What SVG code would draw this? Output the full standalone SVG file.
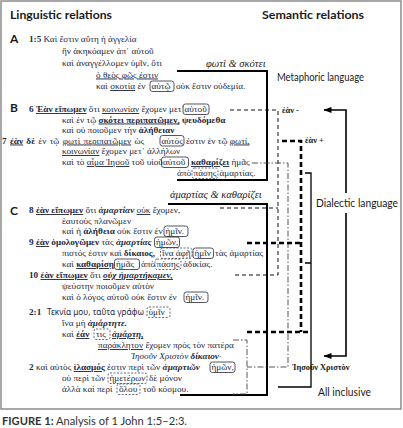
<svg xmlns="http://www.w3.org/2000/svg" width="403" height="428" viewBox="0 0 403 428">
<style>
.s{font-family:"Liberation Serif","DejaVu Serif",serif;font-size:9.2px;fill:#222840}
.b{font-weight:700}
.i{font-style:italic}
.u{text-decoration:underline}
.sans{font-family:"Noto Sans","Open Sans","DejaVu Sans",sans-serif;font-size:8.6px;fill:#222840}
.hd{font-family:Lato,"Open Sans",sans-serif;font-weight:700;font-size:12px;fill:#1a1a1a}
.lb{font-family:Lato,"Open Sans",sans-serif;font-size:11px;fill:#1a1a1a}
.gl{font-family:"Liberation Serif","DejaVu Serif",serif;font-size:8.4px;font-weight:700;fill:#1a1a1a}
.it{font-family:"Liberation Serif","DejaVu Serif",serif;font-size:10.5px;font-style:italic;fill:#1a1a1a}
.bx{fill:none;stroke:#2a2a3a;stroke-width:.8}
.dbx{fill:none;stroke:#2a2a3a;stroke-width:.7;stroke-dasharray:2 1.5}
.br{fill:none;stroke:#000;stroke-width:2}
.dash{fill:none;stroke:#111;stroke-width:1;stroke-dasharray:4 3}
.dd{fill:none;stroke:#444;stroke-width:.9;stroke-dasharray:6 2 1.5 2}
.td{fill:none;stroke:#000;stroke-width:2.6;stroke-dasharray:5 3}
.sol{fill:none;stroke:#000;stroke-width:1.3}
.arr{fill:none;stroke:#000;stroke-width:1.6;marker-end:url(#ah)}
</style>
<defs>
<marker id="ah" viewBox="0 0 8 6" refX="7.5" refY="3" markerWidth="8" markerHeight="6" orient="auto" markerUnits="userSpaceOnUse"><path d="M0,0 L8,3 L0,6 z" fill="#000"/></marker>
</defs>
<rect x="1" y="1" width="400" height="408" fill="#fff" stroke="#8c8c8c" stroke-width="1.5"/>

<g id="header-linguistic"><text class="hd" x="10" y="19" textLength="102" lengthAdjust="spacingAndGlyphs">Linguistic relations</text></g>
<g id="header-semantic"><text class="hd" x="262" y="19" textLength="102" lengthAdjust="spacingAndGlyphs">Semantic relations</text></g>

<g id="sectionA">
<text class="hd" x="10" y="43">A</text>
<text class="s" y="42"><tspan x="29" class="b">1:5 </tspan>Καὶ ἔστιν αὕτη ἡ ἀγγελία</text>
<text class="s" x="62" y="54">ἣν ἀκηκόαμεν ἀπ᾽ αὐτοῦ</text>
<text class="s" x="62" y="66">καὶ ἀναγγέλλομεν ὑμῖν, ὅτι</text>
<text class="s" x="96" y="77.5"><tspan class="u">ὁ θεὸς φῶς ἐστιν</tspan></text>
<text class="s" y="89"><tspan x="96">καὶ </tspan><tspan class="u">σκοτία</tspan> ἐν<tspan x="151.5">αὐτῷ</tspan><tspan x="176">οὐκ ἔστιν οὐδεμία.</tspan></text>
<rect class="bx" x="150" y="81" width="24" height="10.5" rx="2.5"/>
</g>

<g id="sectionB">
<text class="hd" x="10" y="112">B</text>
<text class="s" y="112"><tspan x="29" class="b">6 </tspan><tspan class="b u">Ἐὰν εἴπωμεν</tspan> ὅτι <tspan class="u">κοινωνίαν</tspan> ἔχομεν μετ᾽<tspan x="184.5">αὐτοῦ</tspan></text>
<rect class="bx" x="183" y="104" width="26" height="10.5" rx="2.5"/>
<text class="s" x="62" y="122.5">καὶ ἐν τῷ <tspan class="b u">σκότει περιπατῶμεν,</tspan> <tspan class="b">ψευδόμεθα</tspan></text>
<text class="s" x="62" y="133">καὶ οὐ ποιοῦμεν τὴν <tspan class="b">ἀλήθειαν</tspan></text>
<text class="s" x="2" y="143.5" word-spacing="1"><tspan class="b">7 </tspan><tspan class="b u">ἐὰν</tspan><tspan class="b"> δὲ</tspan> ἐν τῷ <tspan class="u">φωτὶ περιπατῶμεν</tspan> ὡς</text>
<text class="s" y="143.5"><tspan x="161.5">αὐτός</tspan><tspan x="186">ἐστιν ἐν τῷ </tspan><tspan class="u">φωτί,</tspan></text>
<rect class="bx" x="160" y="135.5" width="24" height="10.5" rx="2.5"/>
<text class="s" x="62" y="154"><tspan class="u">κοινωνίαν</tspan> ἔχομεν μετ᾽ ἀλλήλων</text>
<text class="s" y="165"><tspan x="62">καὶ τὸ </tspan><tspan class="u">αἷμα Ἰησοῦ</tspan> τοῦ υἱοῦ<tspan x="163">αὐτοῦ</tspan><tspan x="191" class="b u">καθαρίζει</tspan> ἡμᾶς</text>
<rect class="bx" x="161.5" y="157" width="27" height="10.5" rx="2.5"/>
<text class="s" y="176"><tspan x="177">ἀπὸ</tspan><tspan x="193.5">πάσης</tspan><tspan x="219.5">ἁμαρτίας.</tspan></text>
<rect class="dbx" x="192" y="168" width="26" height="10.5" rx="2.5"/>
</g>

<g id="sectionC">
<text class="hd" x="10" y="215">C</text>
<text class="s" y="213"><tspan x="29" class="b">8 </tspan><tspan class="b u">ἐὰν εἴπωμεν</tspan> ὅτι <tspan class="b i">ἁμαρτίαν</tspan> <tspan class="u">οὐκ</tspan> ἔχομεν,</text>
<text class="s" x="62" y="223.5">ἑαυτοὺς πλανῶμεν</text>
<text class="s" y="234"><tspan x="62">καὶ ἡ </tspan><tspan class="b">ἀλήθεια</tspan> οὐκ ἔστιν ἐν<tspan x="165.5">ἡμῖν.</tspan></text>
<rect class="bx" x="164" y="226" width="24" height="10.5" rx="2.5"/>
<text class="s" y="245"><tspan x="29" class="b">9 </tspan><tspan class="b u">ἐὰν</tspan> <tspan class="b">ὁμολογῶμεν</tspan> τὰς <tspan class="b i">ἁμαρτίας</tspan><tspan x="156">ἡμῶν,</tspan></text>
<rect class="bx" x="154.5" y="237" width="25" height="10.5" rx="2.5"/>
<text class="s" y="256"><tspan x="62">πιστός ἐστιν καὶ </tspan><tspan class="b">δίκαιος,</tspan><tspan x="162">ἵνα ἀφῇ</tspan><tspan x="194.5">ἡμῖν</tspan><tspan x="215">τὰς ἁμαρτίας</tspan></text>
<rect class="dbx" x="160.5" y="248" width="31.5" height="10.5" rx="2"/>
<rect class="bx" x="193" y="248" width="20.5" height="10.5" rx="2.5"/>
<text class="s" y="267"><tspan x="62">καὶ </tspan><tspan class="b u">καθαρίσῃ</tspan><tspan x="116">ἡμᾶς</tspan><tspan x="141">ἀπὸ</tspan><tspan x="156.5">πάσης</tspan><tspan x="183">ἀδικίας.</tspan></text>
<rect class="bx" x="114.5" y="259" width="25" height="10.5" rx="2.5"/>
<rect class="dbx" x="155" y="259" width="26" height="10.5" rx="2"/>
<text class="s" y="278"><tspan x="29" class="b">10 </tspan><tspan class="b u">ἐὰν εἴπωμεν</tspan> ὅτι <tspan class="b i u">οὐχ ἡμαρτήκαμεν,</tspan></text>
<text class="s" x="62" y="289">ψεύστην ποιοῦμεν αὐτὸν</text>
<text class="s" y="300"><tspan x="62">καὶ ὁ λόγος αὐτοῦ οὐκ ἔστιν ἐν</tspan><tspan x="185.5">ἡμῖν.</tspan></text>
<rect class="bx" x="184" y="292" width="24" height="10.5" rx="2.5"/>
<text class="s b" x="29" y="315">2:1</text>
<text class="sans" x="47" y="315" textLength="97" lengthAdjust="spacingAndGlyphs">Τεκνία μου, ταῦτα γράφω</text>
<text class="s" x="148.5" y="315">ὑμῖν</text>
<rect class="dbx" x="147" y="307" width="23" height="10.5" rx="2"/>
<text class="s" x="62" y="326">ἵνα μὴ <tspan class="b i">ἁμάρτητε.</tspan></text>
<text class="s" y="337"><tspan x="62">καὶ </tspan><tspan class="b u">ἐάν</tspan><tspan x="96">τις</tspan><tspan x="112" class="b i u">ἁμάρτῃ,</tspan></text>
<rect class="dbx" x="94" y="329" width="16" height="10.5" rx="2"/>
<text class="s" x="98" y="348"><tspan class="u">παράκλητον</tspan> ἔχομεν πρὸς τὸν πατέρα</text>
<text class="s i" x="131" y="359">Ἰησοῦν Χριστὸν <tspan class="b">δίκαιον</tspan>·</text>
<text class="s" y="370"><tspan x="29" class="b">2 </tspan>καὶ αὐτὸς <tspan class="b u">ἱλασμός</tspan> ἐστιν περὶ τῶν <tspan class="b i">ἁμαρτιῶν</tspan><tspan x="211.5">ἡμῶν,</tspan></text>
<rect class="bx" x="210" y="362" width="25" height="10.5" rx="2.5"/>
<text class="s" y="381"><tspan x="62">οὐ περὶ τῶν</tspan><tspan x="109.5">ἡμετέρων</tspan><tspan x="149">δὲ μόνον</tspan></text>
<rect class="dbx" x="108" y="373" width="39" height="10.5" rx="2"/>
<text class="s" y="392"><tspan x="62">ἀλλὰ καὶ περὶ</tspan><tspan x="119">ὅλου</tspan><tspan x="143">τοῦ κόσμου.</tspan></text>
<rect class="dbx" x="117" y="384" width="23" height="10.5" rx="2"/>
</g>

<g id="label-phos-skotei"><text class="it" x="206" y="67">φωτὶ &amp; σκότει</text></g>
<g id="label-hamartia-katharizei"><text class="it" x="170" y="198">ἁμαρτίας &amp; καθαρίζει</text></g>
<g id="label-metaphoric"><text class="lb" x="277" y="81" textLength="87" lengthAdjust="spacingAndGlyphs">Metaphoric language</text></g>
<g id="label-ean-minus"><text class="gl" x="282" y="113">ἐὰν -</text></g>
<g id="label-ean-plus"><text class="gl" x="305" y="143">ἐὰν +</text></g>
<g id="label-dialectic"><text class="lb" x="316" y="207" textLength="82" lengthAdjust="spacingAndGlyphs">Dialectic language</text></g>
<g id="label-iesoun"><text class="gl" x="292" y="370">Ἰησοῦν Χριστὸν</text></g>
<g id="label-all-inclusive"><text class="lb" x="318" y="396" textLength="53" lengthAdjust="spacingAndGlyphs">All inclusive</text></g>

<g id="connectors">
<path class="br" d="M177,71 H267 V180 H177"/>
<path class="br" d="M168,204 H267 V395 H180"/>
<path class="dash" d="M230,110 H278 V275 H232 M220,208 H278"/>
<path class="dd" d="M252,163 H288 V367 H247 M233,340 H247 V394 H233"/>
<path class="td" d="M282,141 H301 V332 M247,243 H301 M247,332 H311"/>
<path class="sol" d="M305,173 H311 V387 H278 M305,263 H311"/>
<path class="arr" d="M346,193 V110 H324"/>
<path class="arr" d="M346,213 V356 H324"/>
</g>

<g id="caption"><text x="2" y="425" font-family="Lato,'Open Sans',sans-serif" font-size="11.5" fill="#333" textLength="185" lengthAdjust="spacingAndGlyphs"><tspan font-weight="700">FIGURE 1:</tspan> Analysis of 1 John 1:5–2:3.</text></g>
</svg>
